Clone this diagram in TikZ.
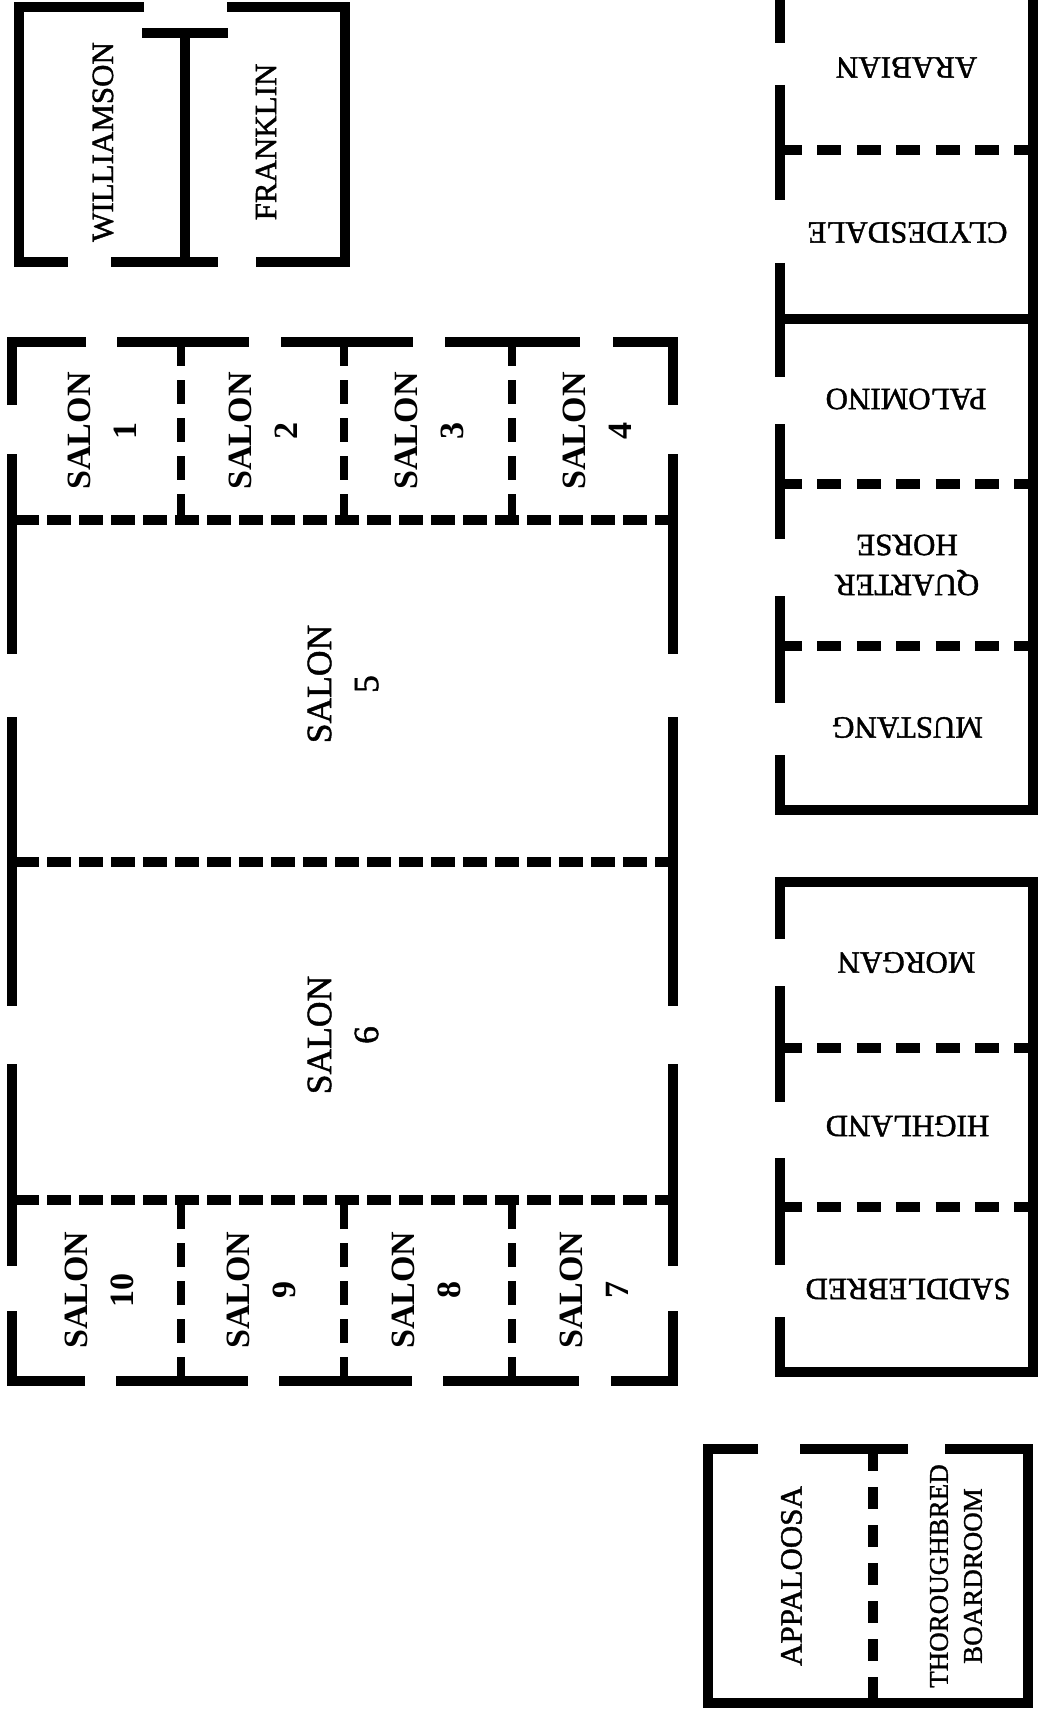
\documentclass[tikz,border=0pt]{standalone}
\usepackage{fontspec}
\setmainfont{Liberation Serif}
\newfontfamily\roomfont[FakeBold=1.3]{Liberation Serif}

\begin{document}
\begin{tikzpicture}[x=1pt, y=-1pt,
    wall/.style={line width=10pt},
    salondash/.style={line width=8.5pt, dash pattern=on 24pt off 14pt},
    salonsplit/.style={line width=10pt, dash pattern=on 24pt off 8pt},
    stalldash/.style={line width=10pt, dash pattern=on 24pt off 15.4pt},
    boarddash/.style={line width=10pt, dash pattern=on 22pt off 16pt},
    room/.style={inner sep=0pt, align=center, font=\roomfont\fontsize{31}{40}\selectfont},
    salon/.style={inner sep=0pt, align=center, rotate=90, font=\bfseries\fontsize{34}{46}\selectfont},
    bigsalon/.style={salon, font=\roomfont\fontsize{35.5}{47}\selectfont}]
    \useasboundingbox (0,0) rectangle (1039,1712);

    % Williamson / Franklin
    \draw[wall] (144,7.5) -- (19,7.5) -- (19,262) -- (68,262);
    \draw[wall] (111,262) -- (218,262);
    \draw[wall] (256,262) -- (345,262) -- (345,7.5) -- (227,7.5);
    \draw[wall] (142,33) -- (228,33);
    \draw[wall] (185,33) -- (185,262);
    \node[room, rotate=90] (williamson) at (103,142) {WILLIAMSON};
    \node[room, rotate=90] (franklin) at (266,142) {FRANKLIN};

    % salons
    \draw[wall] (12,405) -- (12,342) -- (86,342);
    \draw[wall] (117,342) -- (249,342);
    \draw[wall] (281,342) -- (413,342);
    \draw[wall] (445,342) -- (580,342);
    \draw[wall] (613,342) -- (673,342) -- (673,405);
    \draw[wall] (12,454) -- (12,654);
    \draw[wall] (12,717) -- (12,1006);
    \draw[wall] (12,1064) -- (12,1266);
    \draw[wall] (12,1311) -- (12,1381) -- (85,1381);
    \draw[wall] (673,454) -- (673,654);
    \draw[wall] (673,717) -- (673,1006);
    \draw[wall] (673,1064) -- (673,1266);
    \draw[wall] (673,1311) -- (673,1381) -- (611,1381);
    \draw[wall] (116,1381) -- (248,1381);
    \draw[wall] (279,1381) -- (412,1381);
    \draw[wall] (443,1381) -- (579,1381);
    \draw[salondash] (181,342) -- (181,520);
    \draw[salondash] (344,342) -- (344,520);
    \draw[salondash] (512,342) -- (512,520);
    \draw[salondash] (181,1381) -- (181,1200);
    \draw[salondash] (344,1381) -- (344,1200);
    \draw[salondash] (512,1381) -- (512,1200);
    \draw[salonsplit] (15,520) -- (673,520);
    \draw[salonsplit] (15,862) -- (673,862);
    \draw[salonsplit] (15,1200) -- (673,1200);
    \node[salon] (salon1) at (102,431) {SALON\\1};
    \node[salon] (salon2) at (263.5,431) {SALON\\2};
    \node[salon] (salon3) at (429,431) {SALON\\3};
    \node[salon] (salon4) at (597.5,431) {SALON\\4};
    \node[bigsalon] (salon5) at (343,684) {SALON\\5};
    \node[bigsalon] (salon6) at (343,1035) {SALON\\6};
    \node[salon] (salon7) at (594,1290) {SALON\\7};
    \node[salon] (salon8) at (426,1290) {SALON\\8};
    \node[salon] (salon9) at (261,1290) {SALON\\9};
    \node[salon] (salon10) at (99,1290) {SALON\\10};

    % Arabian to Mustang
    \draw[wall] (780,0) -- (780,43);
    \draw[wall] (780,85) -- (780,200);
    \draw[wall] (780,263) -- (780,377);
    \draw[wall] (780,424) -- (780,539);
    \draw[wall] (780,596) -- (780,703);
    \draw[wall] (780,755) -- (780,810) -- (1033,810) -- (1033,0);
    \draw[wall] (780,319) -- (1033,319);
    \draw[stalldash] (778,150) -- (1033,150);
    \draw[stalldash] (778,484) -- (1033,484);
    \draw[stalldash] (778,646) -- (1033,646);
    \node[room, rotate=180] (arabian) at (906.5,67.5) {ARABIAN};
    \node[room, rotate=180] (clydesdale) at (907.5,232.5) {CLYDESDALE};
    \node[room, rotate=180] (palomino) at (906,399) {PALOMINO};
    \node[room, rotate=180] (quarter) at (907,565) {QUARTER\\HORSE};
    \node[room, rotate=180] (mustang) at (907.5,727.5) {MUSTANG};

    % Morgan to Saddlebred
    \draw[wall] (780,939) -- (780,882) -- (1033,882) -- (1033,1372) -- (780,1372) -- (780,1317);
    \draw[wall] (780,986) -- (780,1102);
    \draw[wall] (780,1158) -- (780,1265);
    \draw[stalldash] (778,1048) -- (1033,1048);
    \draw[stalldash] (778,1207) -- (1033,1207);
    \node[room, rotate=180] (morgan) at (906.5,962.5) {MORGAN};
    \node[room, rotate=180] (highland) at (907.5,1126) {HIGHLAND};
    \node[room, rotate=180] (saddlebred) at (908,1289) {SADDLEBRED};

    % Appaloosa / boardroom
    \draw[wall] (758,1449) -- (708,1449) -- (708,1703) -- (1028,1703) -- (1028,1449) -- (945,1449);
    \draw[wall] (800,1449) -- (908,1449);
    \draw[boarddash] (873,1449) -- (873,1703);
    \node[room, rotate=90] (appaloosa) at (791.5,1576) {APPALOOSA};
    \node[room, rotate=90, font=\roomfont\fontsize{27}{34}\selectfont] (boardroom) at (956,1576) {THOROUGHBRED\\BOARDROOM};
\end{tikzpicture}
\end{document}
